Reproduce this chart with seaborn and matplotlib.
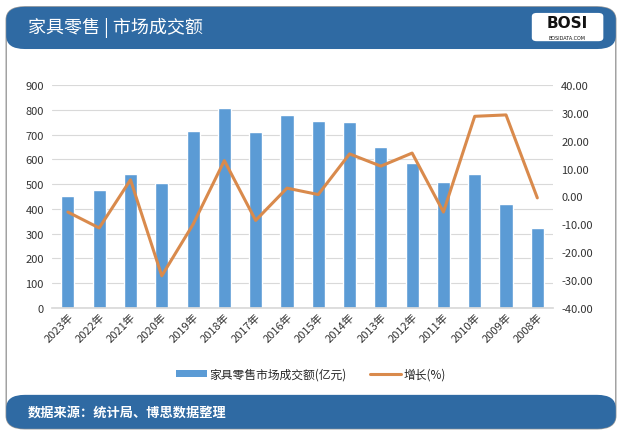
import numpy as np
import pandas as pd
import matplotlib.pyplot as plt
import seaborn as sns
from matplotlib.patches import FancyBboxPatch, Patch
from matplotlib.lines import Line2D

years = ['2023年', '2022年', '2021年', '2020年', '2019年', '2018年', '2017年', '2016年',
         '2015年', '2014年', '2013年', '2012年', '2011年', '2010年', '2009年', '2008年']
sales = [453, 477, 542, 505, 715, 808, 711, 780, 754, 751, 650, 586, 509, 542, 421, 324]
growth = [-5.6, -11.3, 6.0, -28.5, -10.0, 12.9, -8.6, 3.0, 0.7, 15.3, 10.9, 15.6,
          -5.6, 28.8, 29.3, -0.5]

df = pd.DataFrame({'year': years, 'sales': sales, 'growth': growth})
df['pos'] = np.arange(len(df))

sns.set_theme(style="white")
plt.rcParams['font.family'] = ['Noto Sans CJK SC', 'DejaVu Sans']

bar_color = '#5b9bd5'
line_color = '#d98a4c'
band_color = '#2f6aa3'

fig = plt.figure(figsize=(6.22, 4.35), dpi=100)

# card frame, header and footer bands
frame = FancyBboxPatch((0.010, 0.012), 0.980, 0.970, boxstyle="round,pad=0,rounding_size=0.03",
                       transform=fig.transFigure, facecolor='white', edgecolor='#9a9a9a',
                       linewidth=1.0, zorder=-3)
fig.patches.append(frame)
header = FancyBboxPatch((0.010, 0.885), 0.980, 0.097, boxstyle="round,pad=0,rounding_size=0.03",
                        transform=fig.transFigure, facecolor=band_color, edgecolor='none', zorder=-2)
fig.patches.append(header)
footer = FancyBboxPatch((0.010, 0.012), 0.980, 0.078, boxstyle="round,pad=0,rounding_size=0.03",
                        transform=fig.transFigure, facecolor=band_color, edgecolor='none', zorder=-2)
fig.patches.append(footer)

fig.text(0.045, 0.935, '家具零售 | 市场成交额', color='white', fontsize=13, va='center', ha='left')
fig.text(0.045, 0.051, '数据来源：统计局、博思数据整理', color='white', fontsize=9.5,
         fontweight='bold', va='center', ha='left')

# logo
logo = FancyBboxPatch((0.855, 0.903), 0.115, 0.065, boxstyle="round,pad=0,rounding_size=0.008",
                      transform=fig.transFigure, facecolor='white', edgecolor='none', zorder=-1)
fig.patches.append(logo)
fig.text(0.912, 0.945, 'BOSI', color='#111111', fontsize=11, fontweight='bold',
         family='DejaVu Sans', ha='center', va='center', zorder=3)
fig.text(0.912, 0.912, 'BOSIDATA.COM', color='#111111', fontsize=3.5,
         family='DejaVu Sans', ha='center', va='center', zorder=3)

ax = fig.add_axes([0.084, 0.290, 0.805, 0.512])
ax.set_facecolor('none')
sns.barplot(data=df, x='year', y='sales', color=bar_color, width=0.42,
            saturation=1, ax=ax, zorder=2)
ax.set_ylim(0, 900)
ax.set_yticks(range(0, 901, 100))
ax.yaxis.grid(True, color='#d9d9d9', linewidth=0.8)
ax.set_axisbelow(True)
ax.set_xlabel('')
ax.set_ylabel('')
ax.set_xlim(-0.5, len(df) - 0.5)
for s in ax.spines.values():
    s.set_visible(False)
ax.spines['bottom'].set_visible(True)
ax.spines['bottom'].set_color('#d9d9d9')
ax.tick_params(axis='y', labelsize=8, colors='#333333', length=0, pad=6)
ax.tick_params(axis='x', labelsize=8, colors='#333333', length=0, pad=2)
plt.setp(ax.get_xticklabels(), rotation=45, ha='right', rotation_mode='anchor')

ax2 = ax.twinx()
sns.lineplot(data=df, x='pos', y='growth', color=line_color, linewidth=2.2, ax=ax2)
ax2.set_ylim(-40, 40)
ax2.set_yticks(range(-40, 41, 10))
ax2.set_yticklabels([f'{v:.2f}' for v in range(-40, 41, 10)])
ax2.set_ylabel('')
ax2.set_xlabel('')
for s in ax2.spines.values():
    s.set_visible(False)
ax2.tick_params(axis='y', labelsize=8, colors='#333333', length=0, pad=6)
ax2.set_xlim(-0.5, len(df) - 0.5)

handles = [Patch(facecolor=bar_color, edgecolor='none'),
           Line2D([0], [0], color=line_color, linewidth=2.2)]
fig.legend(handles, ['家具零售市场成交额(亿元)', '增长(%)'], loc='center',
           bbox_to_anchor=(0.5, 0.137), ncol=2, frameon=False, fontsize=8.5,
           handlelength=2.6, handleheight=0.5, columnspacing=2.0, handletextpad=0.2)

plt.savefig('out.png', dpi=100)
plt.close()
